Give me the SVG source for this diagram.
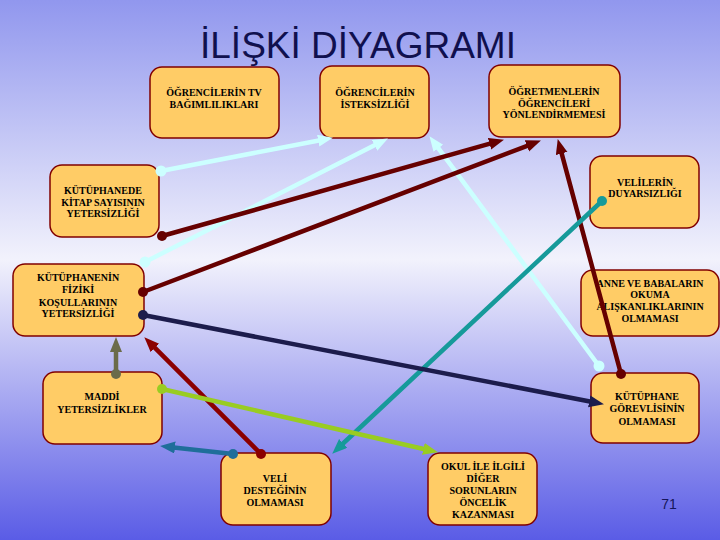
<svg xmlns="http://www.w3.org/2000/svg" width="720" height="540" viewBox="0 0 720 540">
<defs>
<linearGradient id="bg" x1="0" y1="0" x2="0" y2="1">
<stop offset="0" stop-color="#9197ee"/>
<stop offset="0.48" stop-color="#f2f2fc"/>
<stop offset="1" stop-color="#5a5ce6"/>
</linearGradient>
<marker id="mCyan" markerUnits="userSpaceOnUse" markerWidth="16" markerHeight="14" refX="6" refY="6" orient="auto"><path d="M0,0 L15,6 L0,12 z" fill="#ccffff"/></marker>
<marker id="mMaroon" markerUnits="userSpaceOnUse" markerWidth="16" markerHeight="14" refX="6" refY="6" orient="auto"><path d="M0,0 L15,6 L0,12 z" fill="#660000"/></marker>
<marker id="mRed" markerUnits="userSpaceOnUse" markerWidth="16" markerHeight="14" refX="6" refY="6" orient="auto"><path d="M0,0 L15,6 L0,12 z" fill="#8b0000"/></marker>
<marker id="mTeal" markerUnits="userSpaceOnUse" markerWidth="16" markerHeight="14" refX="6" refY="6" orient="auto"><path d="M0,0 L15,6 L0,12 z" fill="#169a9a"/></marker>
<marker id="mNavy" markerUnits="userSpaceOnUse" markerWidth="16" markerHeight="14" refX="6" refY="6" orient="auto"><path d="M0,0 L15,6 L0,12 z" fill="#1c1c4c"/></marker>
<marker id="mOlive" markerUnits="userSpaceOnUse" markerWidth="16" markerHeight="14" refX="6" refY="6" orient="auto"><path d="M0,0 L15,6 L0,12 z" fill="#6b6b4a"/></marker>
<marker id="mGreen" markerUnits="userSpaceOnUse" markerWidth="16" markerHeight="14" refX="6" refY="6" orient="auto"><path d="M0,0 L15,6 L0,12 z" fill="#99cc22"/></marker>
<marker id="mBlue" markerUnits="userSpaceOnUse" markerWidth="16" markerHeight="14" refX="6" refY="6" orient="auto"><path d="M0,0 L15,6 L0,12 z" fill="#1f6e9a"/></marker>
</defs>
<style>
.box{fill:#ffcc66;stroke:#800000;stroke-width:1.5}
.t{font-family:"Liberation Serif","Times New Roman",serif;font-weight:bold;font-size:10px;fill:#000;text-anchor:middle}
.c{fill:none;stroke-width:4.5;stroke-linecap:round}
.title{font-family:"Liberation Sans",Arial,sans-serif;font-size:37px;fill:#10104e;text-anchor:middle}
.num{font-family:"Liberation Sans",Arial,sans-serif;font-size:14px;fill:#15155a;text-anchor:middle}
</style>
<rect x="0" y="0" width="720" height="540" fill="url(#bg)"/>
<text class="title" x="358" y="58">İLİŞKİ DİYAGRAMI</text>

<g id="n-tv"><rect class="box" x="150" y="67" width="129" height="71" rx="12"/>
<text class="t" x="214" y="96">ÖĞRENCİLERİN TV</text><text class="t" x="214" y="108">BAĞIMLILIKLARI</text></g>
<g id="n-isteksizlik"><rect class="box" x="320" y="66" width="109" height="72" rx="12"/>
<text class="t" x="375" y="96">ÖĞRENCİLERİN</text><text class="t" x="375" y="108">İSTEKSİZLİĞİ</text></g>
<g id="n-ogretmen"><rect class="box" x="489" y="65" width="131" height="72" rx="12"/>
<text class="t" x="554" y="95">ÖĞRETMENLERİN</text><text class="t" x="554" y="107">ÖĞRENCİLERİ</text><text class="t" x="554" y="118">YÖNLENDİRMEMESİ</text></g>
<g id="n-kitap"><rect class="box" x="50" y="165" width="109" height="72" rx="12"/>
<text class="t" x="103" y="194">KÜTÜPHANEDE</text><text class="t" x="103" y="206">KİTAP SAYISININ</text><text class="t" x="103" y="217">YETERSİZLİĞİ</text></g>
<g id="n-veliler"><rect class="box" x="590" y="156" width="109" height="72" rx="12"/>
<text class="t" x="645" y="186">VELİLERİN</text><text class="t" x="645" y="197">DUYARSIZLIĞI</text></g>
<g id="n-fiziki"><rect class="box" x="13" y="264" width="131" height="72" rx="12"/>
<text class="t" x="78" y="281">KÜTÜPHANENİN</text><text class="t" x="78" y="293">FİZİKİ</text><text class="t" x="78" y="306">KOŞULLARININ</text><text class="t" x="78" y="317">YETERSİZLİĞİ</text></g>
<g id="n-anne"><rect class="box" x="581" y="270" width="138" height="66" rx="12"/>
<text class="t" x="650" y="287">ANNE VE BABALARIN</text><text class="t" x="650" y="298">OKUMA</text><text class="t" x="650" y="310">ALIŞKANLIKLARININ</text><text class="t" x="650" y="322">OLMAMASI</text></g>
<g id="n-maddi"><rect class="box" x="43" y="372" width="119" height="72" rx="12"/>
<text class="t" x="102" y="400">MADDİ</text><text class="t" x="102" y="413">YETERSİZLİKLER</text></g>
<g id="n-gorevli"><rect class="box" x="591" y="373" width="108" height="70" rx="12"/>
<text class="t" x="647" y="400">KÜTÜPHANE</text><text class="t" x="647" y="412">GÖREVLİSİNİN</text><text class="t" x="647" y="425">OLMAMASI</text></g>
<g id="n-veli"><rect class="box" x="221" y="453" width="110" height="72" rx="12"/>
<text class="t" x="275" y="482">VELİ</text><text class="t" x="275" y="494">DESTEĞİNİN</text><text class="t" x="275" y="506">OLMAMASI</text></g>
<g id="n-okul"><rect class="box" x="428" y="453" width="109" height="72" rx="12"/>
<text class="t" x="483" y="470">OKUL İLE İLGİLİ</text><text class="t" x="483" y="482">DİĞER</text><text class="t" x="483" y="494">SORUNLARIN</text><text class="t" x="483" y="506">ÖNCELİK</text><text class="t" x="483" y="518">KAZANMASI</text></g>

<g id="connectors">
<line class="c" x1="161" y1="171" x2="324.1" y2="139.5" stroke="#ccffff" marker-end="url(#mCyan)"/>
<circle cx="161" cy="171" r="5.5" fill="#ccffff"/>
<line class="c" x1="145" y1="262" x2="379.9" y2="142.6" stroke="#ccffff" marker-end="url(#mCyan)"/>
<circle cx="145" cy="262" r="5.5" fill="#ccffff"/>
<line class="c" x1="599" y1="366" x2="434.8" y2="143.4" stroke="#ccffff" marker-end="url(#mCyan)"/>
<circle cx="599" cy="366" r="5.5" fill="#ccffff"/>
<line class="c" x1="162" y1="236" x2="495.3" y2="142.2" stroke="#660000" marker-end="url(#mMaroon)"/>
<circle cx="162" cy="236" r="5" fill="#660000"/>
<line class="c" x1="143" y1="292" x2="532.5" y2="143.8" stroke="#660000" marker-end="url(#mMaroon)"/>
<circle cx="143" cy="292" r="5" fill="#660000"/>
<line class="c" x1="621" y1="374" x2="560.1" y2="147.7" stroke="#660000" marker-end="url(#mMaroon)"/>
<circle cx="621" cy="374" r="5" fill="#660000"/>
<line class="c" x1="602" y1="201" x2="338.8" y2="447.5" stroke="#169a9a" marker-end="url(#mTeal)"/>
<circle cx="602" cy="201" r="5" fill="#169a9a"/>
<line class="c" x1="143" y1="315" x2="595.1" y2="402.5" stroke="#1c1c4c" marker-end="url(#mNavy)"/>
<circle cx="143" cy="315" r="5" fill="#1c1c4c"/>
<line class="c" x1="261" y1="454" x2="150.7" y2="343.7" stroke="#8b0000" marker-end="url(#mRed)"/>
<circle cx="261" cy="454" r="5" fill="#8b0000"/>
<line class="c" x1="116" y1="374" x2="116" y2="346" stroke="#6b6b4a" marker-end="url(#mOlive)"/>
<circle cx="116" cy="374" r="5" fill="#6b6b4a"/>
<line class="c" x1="162" y1="389" x2="429.2" y2="450.2" stroke="#99cc22" marker-end="url(#mGreen)"/>
<circle cx="162" cy="389" r="5" fill="#99cc22"/>
<line class="c" x1="233" y1="454" x2="169" y2="446.9" stroke="#1f6e9a" marker-end="url(#mBlue)"/>
<circle cx="233" cy="454" r="5" fill="#1f6e9a"/>
</g>
<text class="num" x="669" y="509">71</text>
</svg>
